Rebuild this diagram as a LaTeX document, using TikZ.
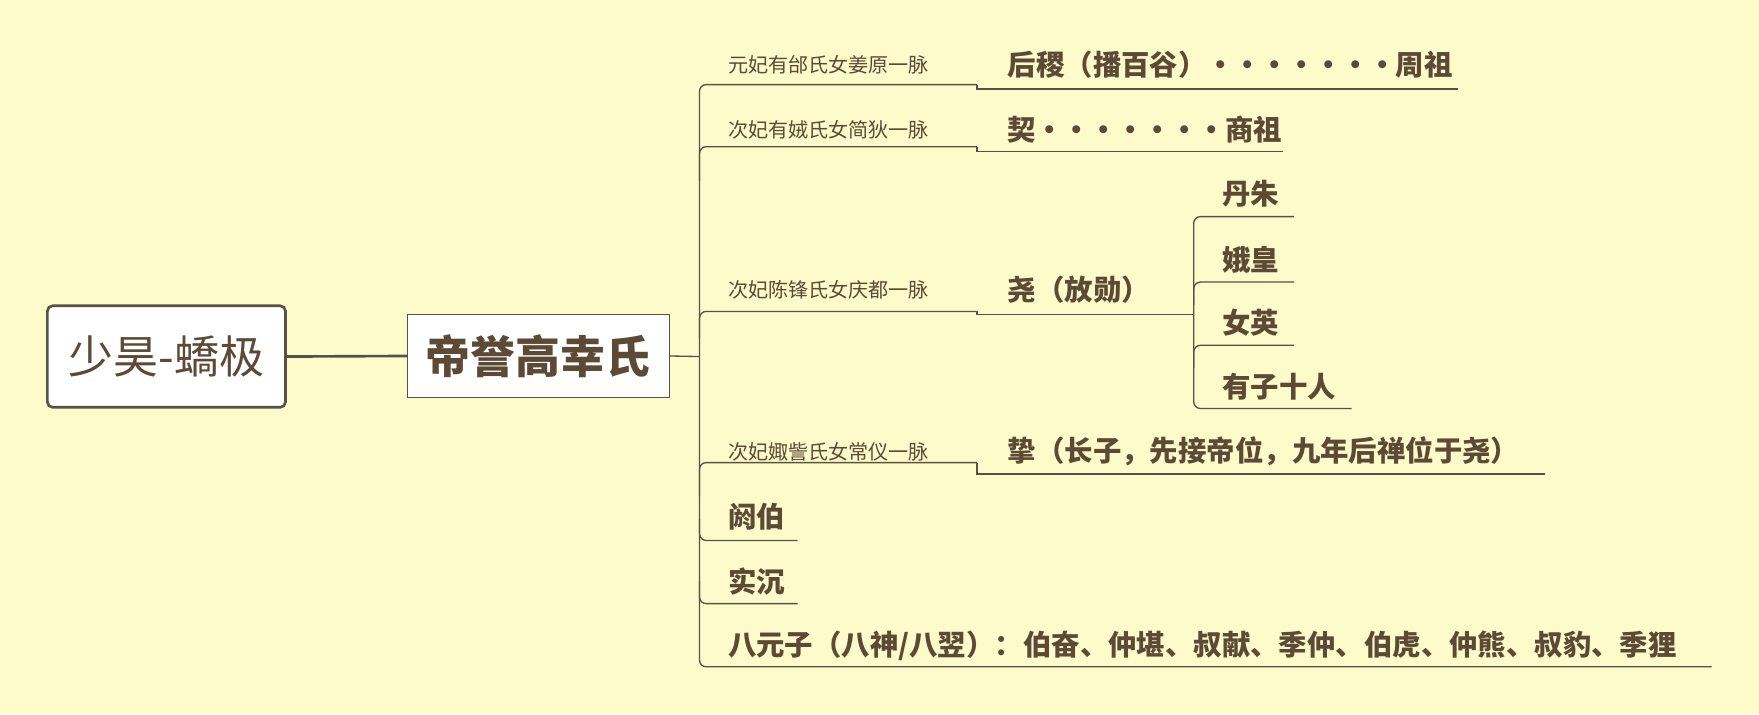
\documentclass[tikz,border=0pt]{standalone}
\usepackage{fontspec}
\setmainfont{Noto Sans CJK SC}
\newcommand{\dt}{\makebox[0.95em]{·}}
\begin{document}
\begin{tikzpicture}[x=0.03cm,y=-0.03cm,
  txt/.style={text=textc,inner sep=0pt,anchor=west},
  lab/.style={txt,font=\fontsize{15.2}{17}\selectfont},
  kid/.style={txt,font=\fontsize{21.5}{24}\selectfont\bfseries},
  ln/.style={draw=linec,line width=1pt},
  lnr/.style={ln,rounded corners=5pt}]
\definecolor{bg}{HTML}{FDFBC9}
\definecolor{textc}{HTML}{5C4A36}
\definecolor{linec}{HTML}{55524A}
\fill[bg] (0,0) rectangle (1559,633);
\useasboundingbox (0,0) rectangle (1559,633);
% root boxes
\node[draw=linec,line width=2pt,rounded corners=4pt,fill=white,minimum width=211*0.03cm,minimum height=90*0.03cm,text=textc,font=\fontsize{34}{38}\selectfont] (r) at (147.5,316) {少昊-蟜极};
\node[draw=linec,line width=0.8pt,fill=white,minimum width=232*0.03cm,minimum height=73*0.03cm,text=textc,font=\fontsize{34}{38}\selectfont\bfseries] (d) at (477,315.5) {帝誉高幸氏};
\draw[ln,line width=2pt] (r.east) -- (d.west);
\coordinate (t) at (620,316);
\draw[ln] (d.east) -- (t);
% first-level labels
\node[lab] (l1) at (645,57) {元妃有邰氏女姜原一脉};
\node[lab] (l2) at (645,115) {次妃有娀氏女简狄一脉};
\node[lab] (l3) at (645,257) {次妃陈锋氏女庆都一脉};
\node[lab] (l4) at (645,400) {次妃娵訾氏女常仪一脉};
\node[kid] (l5) at (645,458) {阏伯};
\node[kid] (l6) at (645,515) {实沉};
\node[kid] (l7) at (645,572) {八元子（八神/八翌）：伯奋、仲堪、叔献、季仲、伯虎、仲熊、叔豹、季狸};
% trunk
\draw[lnr] (866,75) -- (620,75) -- (620,591) -- (1517,591);
\draw[lnr] (866,130) -- (620,130) -- (620,160);
\draw[lnr] (866,276) -- (620,276) -- (620,300);
\draw[lnr] (866,410) -- (620,410) -- (620,440);
\draw[lnr] (707,479) -- (620,479) -- (620,460);
\draw[lnr] (707,535) -- (620,535) -- (620,515);
% children
\node[kid] (c1) at (893,57) {后稷（播百谷）\dt\dt\dt\dt\dt\dt\dt 周祖};
\node[kid] (c2) at (893,115) {契\dt\dt\dt\dt\dt\dt\dt 商祖};
\node[kid] (c3) at (893,257) {尧（放勋）};
\node[kid] (c4) at (893,400) {挚（长子，先接帝位，九年后禅位于尧）};
\draw[ln] (866,75) -- (866,79) -- (1292,79);
\draw[ln] (866,130) -- (866,134) -- (1137,134);
\draw[ln] (866,276) -- (866,279) -- (1058,279);
\draw[ln] (866,410) -- (866,420) -- (1369,420);
% grandchildren
\node[kid] (g1) at (1083,172) {丹朱};
\node[kid] (g2) at (1083,230) {娥皇};
\node[kid] (g3) at (1083,286) {女英};
\node[kid] (g4) at (1083,343) {有子十人};
\draw[lnr] (1147,192) -- (1058,192) -- (1058,362) -- (1198,362);
\draw[lnr] (1147,250) -- (1058,250) -- (1058,270);
\draw[lnr] (1147,306) -- (1058,306) -- (1058,326);
\end{tikzpicture}
\end{document}
